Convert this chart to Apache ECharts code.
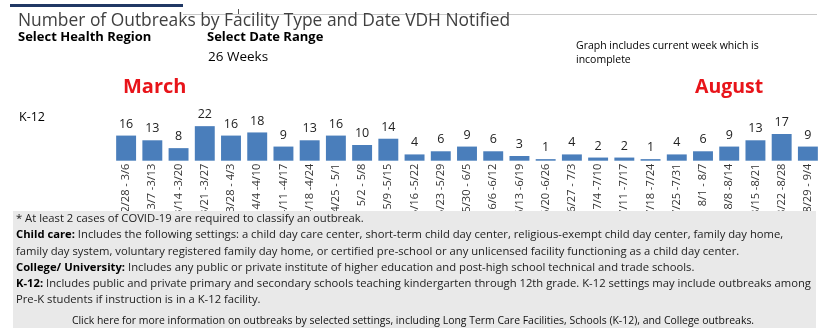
<!DOCTYPE html>
<html><head><meta charset="utf-8">
<script src="https://cdn.jsdelivr.net/npm/echarts@6/dist/echarts.min.js"></script>
<style>html,body{margin:0;padding:0;background:#fff}#c{width:823px;height:328px}</style>
</head><body><div id="c"></div>
<script>
const categories = ["2/28 - 3/6","3/7 -3/13","3/14 -3/20","3/21 -3/27","3/28 - 4/3","4/4 -4/10","4/11 -4/17","4/18 -4/24","4/25 - 5/1","5/2 - 5/8","5/9 -5/15","5/16 -5/22","5/23 -5/29","5/30 - 6/5","6/6 -6/12","6/13 -6/19","6/20 -6/26","6/27 - 7/3","7/4 -7/10","7/11 -7/17","7/18 -7/24","7/25 -7/31","8/1 - 8/7","8/8 -8/14","8/15 -8/21","8/22 -8/28","8/29 - 9/4"];
const k12Values = [16,13,8,22,16,18,9,13,16,10,14,4,6,9,6,3,1,4,2,2,1,4,6,9,13,17,9];
const titleText = "Number of Outbreaks by Facility Type and Date VDH Notified";
const footerBold = ["", "Child care:", "", "College/ University:", "K-12:", ""];
const footerRest = [
  "* At least 2 cases of COVID-19 are required to classify an outbreak.",
  " Includes the following settings: a child day care center, short-term child day center, religious-exempt child day center, family day home,",
  "family day system, voluntary registered family day home, or certified pre-school or any unlicensed facility functioning as a child day center.",
  " Includes any public or private institute of higher education and post-high school technical and trade schools.",
  " Includes public and private primary and secondary schools teaching kindergarten through 12th grade. K-12 settings may include outbreaks among",
  "Pre-K students if instruction is in a K-12 facility."
];
const clickText = "Click here for more information on outbreaks by selected settings, including Long Term Care Facilities, Schools (K-12), and College outbreaks.";

const chart = echarts.init(document.getElementById('c'), null, {renderer:'canvas'});
const FF = "'Open Sans',sans-serif";
const ctx = document.createElement('canvas').getContext('2d');
function w(t, bold, size){ ctx.font = (bold?'bold ':'') + size + "px " + FF; return ctx.measureText(t).width; }
const wRef = w(footerBold[1], true, 12) + w(footerRest[1], false, 12);
const fs = 12 * 767 / wRef;
const wClick = w(clickText, false, 12);
const fsClick = 12 * 683 / wClick;

const graphics = [
  {type:'rect', shape:{x:10,y:4,width:173,height:3}, style:{fill:'#203864'}},
  {type:'line', shape:{x1:183,y1:14.5,x2:817,y2:14.5}, style:{stroke:'#c8c8c8',lineWidth:1}},
  {type:'line', shape:{x1:238.5,y1:9,x2:238.5,y2:14}, style:{stroke:'#555',lineWidth:1}},
  {type:'text', left:18, top:13, style:{text:titleText, font:"17.4px 'Open Sans',sans-serif", fill:'#404040'}},
  {type:'text', left:18, top:31, style:{text:'Select Health Region', font:"bold 13px 'Open Sans',sans-serif", fill:'#000'}},
  {type:'text', left:207, top:31, style:{text:'Select Date Range', font:"bold 13px 'Open Sans',sans-serif", fill:'#000'}},
  {type:'text', left:208, top:50, style:{text:'26 Weeks', font:"13.5px 'Open Sans',sans-serif", fill:'#000'}},
  {type:'text', left:576, top:39, style:{text:'Graph includes current week which is\nincomplete', font:"10.5px 'Open Sans',sans-serif", fill:'#000', lineHeight:14}},
  {type:'text', left:123, top:77, style:{text:'March', font:"bold 20px 'Open Sans',sans-serif", fill:'#e8141a'}},
  {type:'text', left:695, top:77, style:{text:'August', font:"bold 19.5px 'Open Sans',sans-serif", fill:'#e8141a'}},
  {type:'text', left:19, top:111, style:{text:'K-12', font:"12.5px 'Open Sans',sans-serif", fill:'#000'}},
  {type:'rect', z:50, shape:{x:13,y:211,width:803,height:117}, style:{fill:'#e9e9e9'}}
];
footerRest.forEach((t,i)=>{
  const txt = footerBold[i] ? '{b|' + footerBold[i] + '}' + t : t;
  graphics.push({type:'text', z:60, x:16, y:219 + 16.2*i, style:{text:txt, font:fs.toFixed(2)+"px "+FF, fill:'#222', textVerticalAlign:'middle',
    rich:{b:{fontWeight:'bold', fontFamily:FF, fontSize:fs, fill:'#000'}}}});
});
graphics.push({type:'text', z:60, x:413, y:321, style:{text:clickText, font:fsClick.toFixed(2)+"px "+FF, fill:'#111', textAlign:'center', textVerticalAlign:'middle'}});

chart.setOption({
  animation:false,
  grid:{left:113, right:2, top:113.6, bottom:167.3},
  xAxis:{type:'category', data:categories, axisLine:{show:false}, axisTick:{show:false},
    axisLabel:{rotate:90, interval:0, fontSize:11, fontFamily:FF, color:'#333', margin:3}},
  yAxis:{type:'value', min:0, max:30, show:false, splitLine:{show:false}},
  series:[{type:'bar', data:k12Values, barCategoryGap:'24%', itemStyle:{color:'#4a7ebb'},
    label:{show:true, position:'top', distance:5, fontSize:12.5, fontFamily:FF, color:'#222'}}],
  graphic:graphics
});
</script></body></html>
